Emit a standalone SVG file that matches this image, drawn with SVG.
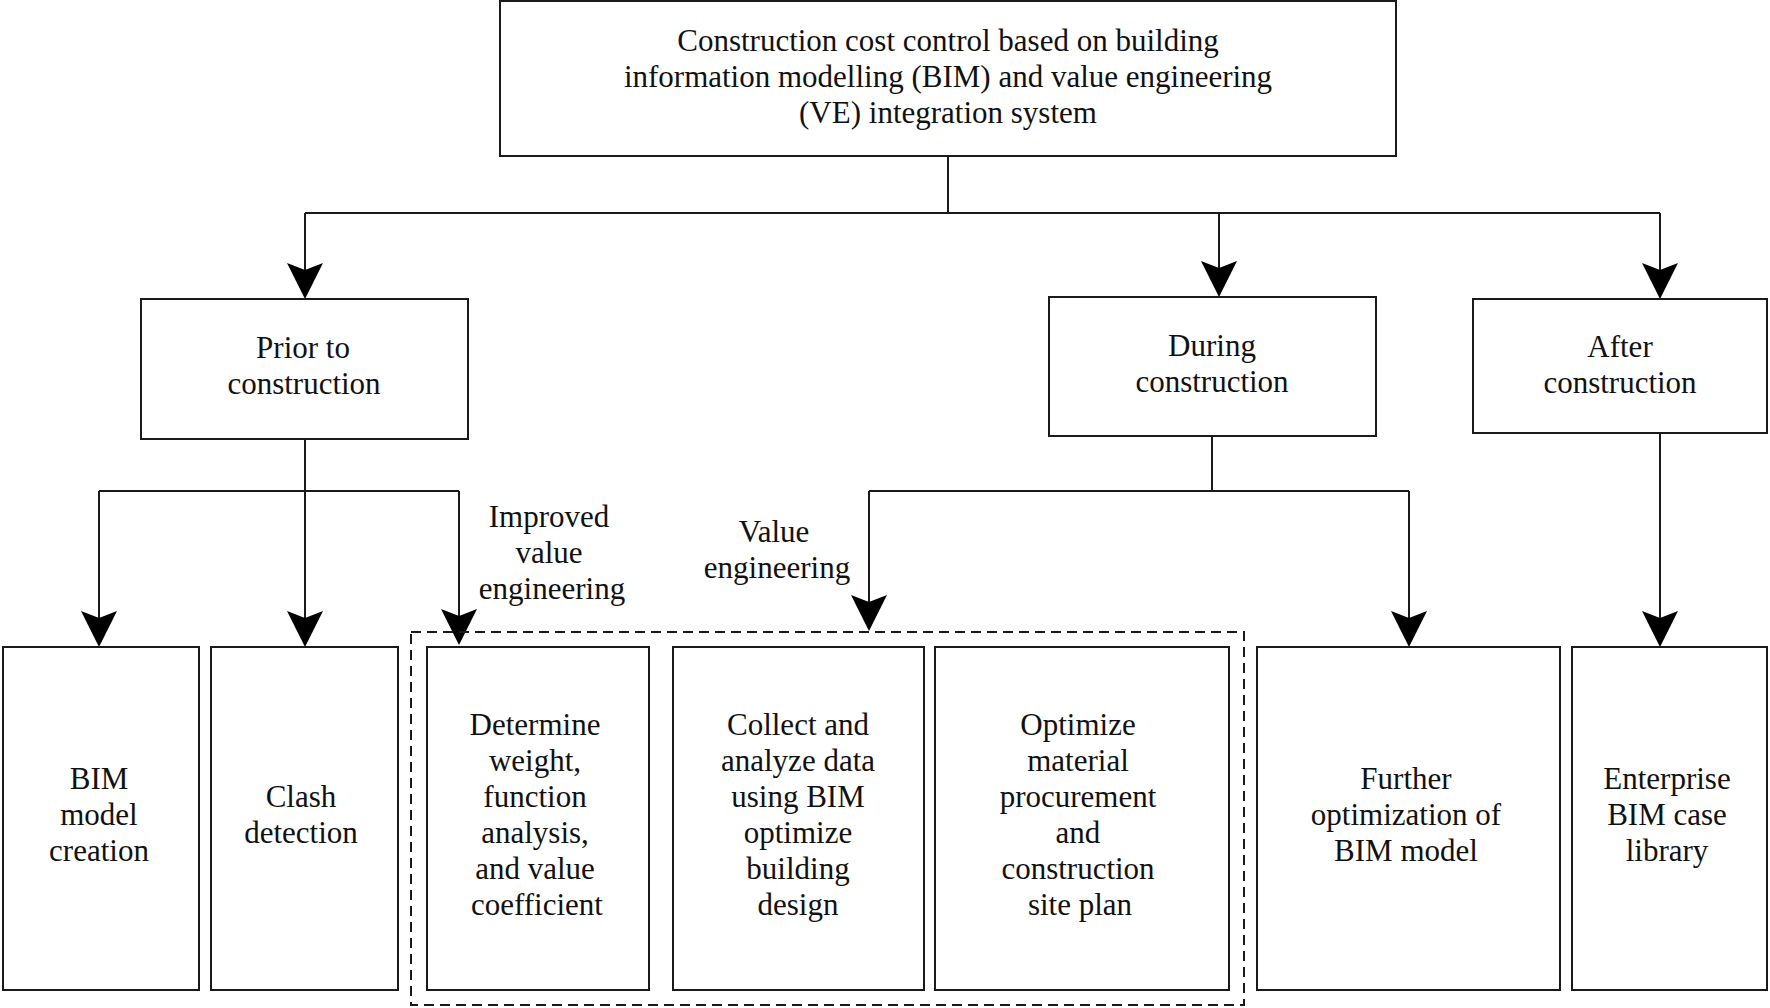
<svg xmlns="http://www.w3.org/2000/svg" width="1770" height="1008" viewBox="0 0 1770 1008">
  <style>
    .box { fill: #ffffff; stroke: #1a1a1a; stroke-width: 2; }
    .dash { fill: none; stroke: #1a1a1a; stroke-width: 2; stroke-dasharray: 10 6; }
    .line { fill: none; stroke: #1a1a1a; stroke-width: 2; }
    text { font-family: "Liberation Serif", "Times New Roman", serif; font-size: 31px; fill: #111111; text-anchor: middle; }
  </style>
  <defs>
    <marker id="arrow" markerUnits="userSpaceOnUse" viewBox="-28 -19 40 38" refX="0" refY="0" markerWidth="40" markerHeight="38" orient="auto">
      <path d="M10,0 L-26,-18 L-19,0 L-26,18 Z" fill="#000000"/>
    </marker>
  </defs>
  <rect width="1770" height="1008" fill="#ffffff"/>

  <g id="connectors">
    <path class="line" d="M948,156 V213 M305,213 H1660"/>
    <path class="line" d="M305,213 V289" marker-end="url(#arrow)"/>
    <path class="line" d="M1219,213 V287" marker-end="url(#arrow)"/>
    <path class="line" d="M1660,213 V289" marker-end="url(#arrow)"/>
    <path class="line" d="M305,439 V491 M99,491 H459"/>
    <path class="line" d="M99,491 V637" marker-end="url(#arrow)"/>
    <path class="line" d="M305,491 V637" marker-end="url(#arrow)"/>
    <path class="line" d="M459,491 V635" marker-end="url(#arrow)"/>
    <path class="line" d="M1212,436 V491 M869,491 H1409"/>
    <path class="line" d="M869,491 V621" marker-end="url(#arrow)"/>
    <path class="line" d="M1409,491 V637" marker-end="url(#arrow)"/>
    <path class="line" d="M1660,433 V637" marker-end="url(#arrow)"/>
  </g>

  <g id="label-improved">
    <text x="549" y="527">Improved</text>
    <text x="549" y="563">value</text>
    <text x="552" y="599">engineering</text>
  </g>
  <g id="label-value">
    <text x="774" y="542">Value</text>
    <text x="777" y="578">engineering</text>
  </g>

  <g id="node-root">
    <rect class="box" x="500" y="1" width="896" height="155"/>
    <text x="948" y="51">Construction cost control based on building</text>
    <text x="948" y="87">information modelling (BIM) and value engineering</text>
    <text x="948" y="123">(VE) integration system</text>
  </g>

  <g id="node-prior">
    <rect class="box" x="141" y="299" width="327" height="140"/>
    <text x="303" y="358">Prior to</text>
    <text x="304" y="394">construction</text>
  </g>
  <g id="node-during">
    <rect class="box" x="1049" y="297" width="327" height="139"/>
    <text x="1212" y="356">During</text>
    <text x="1212" y="392">construction</text>
  </g>
  <g id="node-after">
    <rect class="box" x="1473" y="299" width="294" height="134"/>
    <text x="1620" y="357">After</text>
    <text x="1620" y="393">construction</text>
  </g>

  <g id="group-ve">
    <rect class="dash" x="411" y="632" width="833" height="373"/>
  </g>

  <g id="node-bim">
    <rect class="box" x="3" y="647" width="196" height="343"/>
    <text x="99" y="789">BIM</text>
    <text x="99" y="825">model</text>
    <text x="99" y="861">creation</text>
  </g>
  <g id="node-clash">
    <rect class="box" x="211" y="647" width="187" height="343"/>
    <text x="301" y="807">Clash</text>
    <text x="301" y="843">detection</text>
  </g>
  <g id="node-determine">
    <rect class="box" x="427" y="647" width="222" height="343"/>
    <text x="535" y="735">Determine</text>
    <text x="535" y="771">weight,</text>
    <text x="535" y="807">function</text>
    <text x="535" y="843">analysis,</text>
    <text x="535" y="879">and value</text>
    <text x="537" y="915">coefficient</text>
  </g>
  <g id="node-collect">
    <rect class="box" x="673" y="647" width="251" height="343"/>
    <text x="798" y="735">Collect and</text>
    <text x="798" y="771">analyze data</text>
    <text x="798" y="807">using BIM</text>
    <text x="798" y="843">optimize</text>
    <text x="798" y="879">building</text>
    <text x="798" y="915">design</text>
  </g>
  <g id="node-optimize">
    <rect class="box" x="935" y="647" width="294" height="343"/>
    <text x="1078" y="735">Optimize</text>
    <text x="1078" y="771">material</text>
    <text x="1078" y="807">procurement</text>
    <text x="1078" y="843">and</text>
    <text x="1078" y="879">construction</text>
    <text x="1080" y="915">site plan</text>
  </g>
  <g id="node-further">
    <rect class="box" x="1257" y="647" width="303" height="343"/>
    <text x="1406" y="789">Further</text>
    <text x="1406" y="825">optimization of</text>
    <text x="1406" y="861">BIM model</text>
  </g>
  <g id="node-enterprise">
    <rect class="box" x="1572" y="647" width="195" height="343"/>
    <text x="1667" y="789">Enterprise</text>
    <text x="1667" y="825">BIM case</text>
    <text x="1667" y="861">library</text>
  </g>
</svg>
